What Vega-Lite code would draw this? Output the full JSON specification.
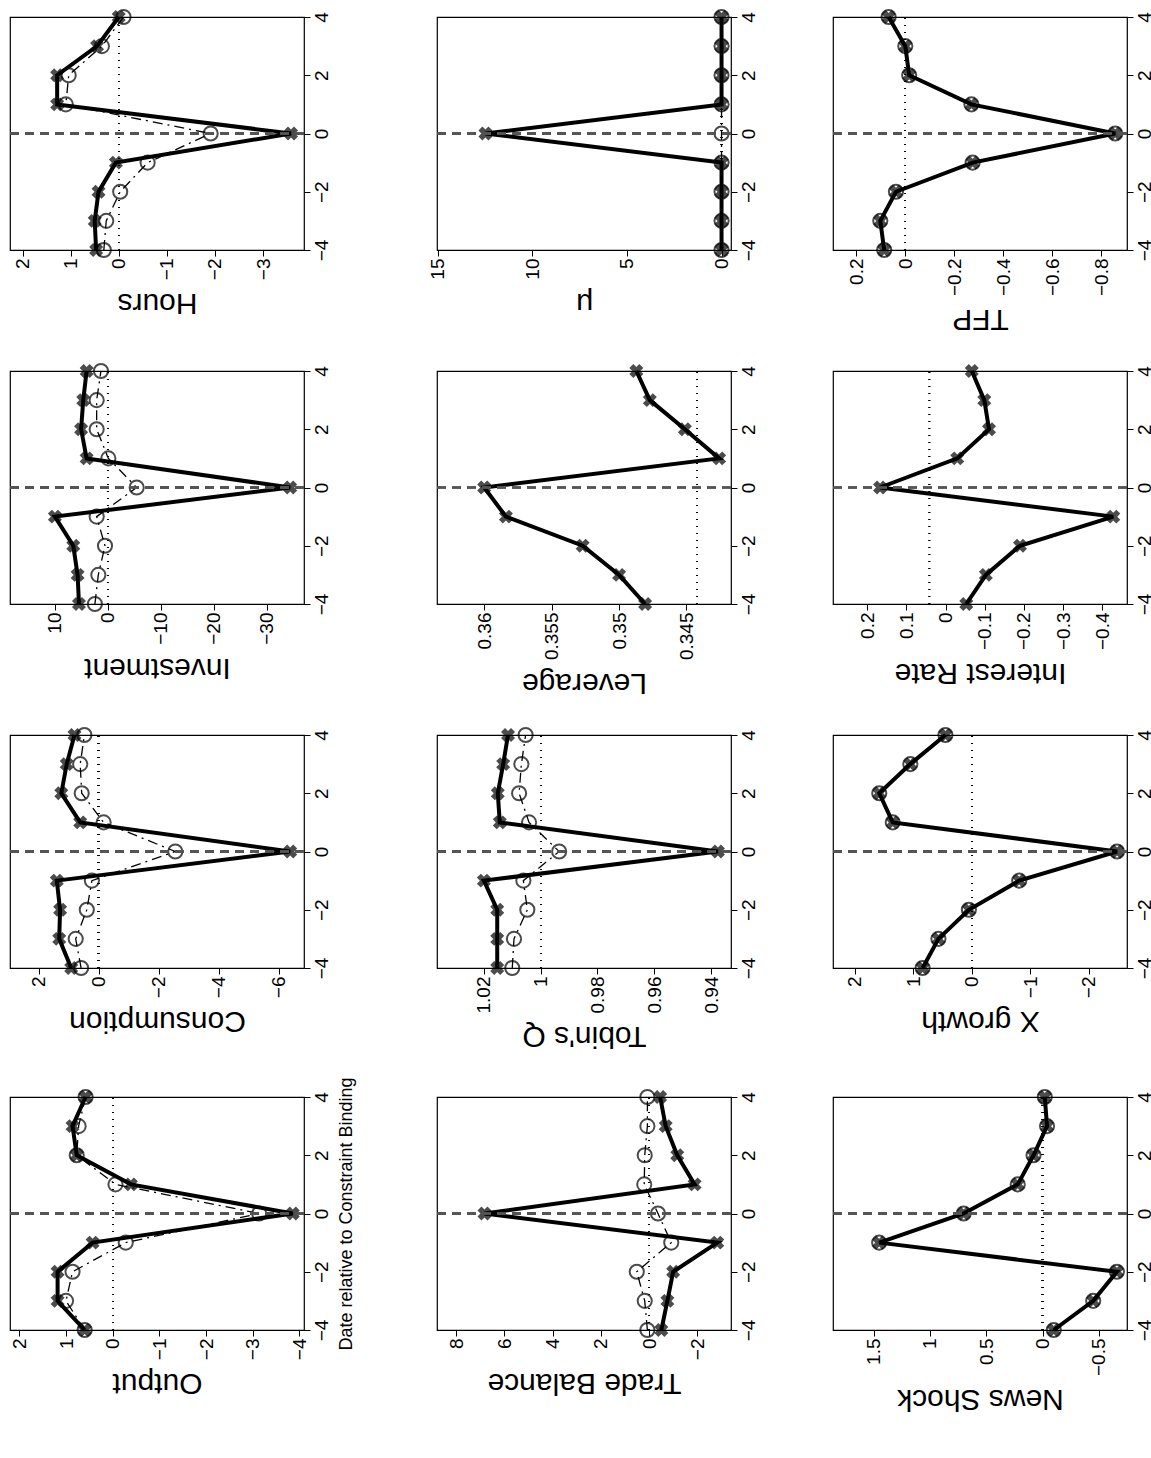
{
  "$schema": "https://vega.github.io/schema/vega-lite/v6.json",
  "padding": {"left": 8, "top": 5, "right": 5, "bottom": 5},
  "background": "white",
  "spacing": {"row": 24, "column": 72},
  "config": {
    "view": {"stroke": "black", "strokeWidth": 1.2},
    "axis": {"grid": false, "domain": false, "tickColor": "black", "tickSize": 6, "labelColor": "black", "titleColor": "black", "titleFontWeight": "normal", "labelFont": "Liberation Sans", "labelFontSize": 19, "titleFont": "Liberation Sans"},
    "axisX": {"titleFontSize": 30, "titleAngle": 180, "titleBaseline": "bottom", "titlePadding": 8}
  },
  "datasets": {
    "irf": [
      {"panel":"Output","series":"a","date":-4,"value":0.6},{"panel":"Output","series":"a","date":-3,"value":1.18},{"panel":"Output","series":"a","date":-2,"value":1.18},{"panel":"Output","series":"a","date":-1,"value":0.43},{"panel":"Output","series":"a","date":0,"value":-3.86},{"panel":"Output","series":"a","date":1,"value":-0.39},{"panel":"Output","series":"a","date":2,"value":0.77},{"panel":"Output","series":"a","date":3,"value":0.86},{"panel":"Output","series":"a","date":4,"value":0.58},
      {"panel":"Output","series":"b","date":-4,"value":0.6},{"panel":"Output","series":"b","date":-3,"value":1.0},{"panel":"Output","series":"b","date":-2,"value":0.86},{"panel":"Output","series":"b","date":-1,"value":-0.28},{"panel":"Output","series":"b","date":0,"value":-3.14},{"panel":"Output","series":"b","date":1,"value":-0.06},{"panel":"Output","series":"b","date":2,"value":0.77},{"panel":"Output","series":"b","date":3,"value":0.73},{"panel":"Output","series":"b","date":4,"value":0.58},
      {"panel":"Consumption","series":"a","date":-4,"value":0.91},{"panel":"Consumption","series":"a","date":-3,"value":1.31},{"panel":"Consumption","series":"a","date":-2,"value":1.28},{"panel":"Consumption","series":"a","date":-1,"value":1.39},{"panel":"Consumption","series":"a","date":0,"value":-6.39},{"panel":"Consumption","series":"a","date":1,"value":0.61},{"panel":"Consumption","series":"a","date":2,"value":1.24},{"panel":"Consumption","series":"a","date":3,"value":1.06},{"panel":"Consumption","series":"a","date":4,"value":0.8},
      {"panel":"Consumption","series":"b","date":-4,"value":0.58},{"panel":"Consumption","series":"b","date":-3,"value":0.76},{"panel":"Consumption","series":"b","date":-2,"value":0.39},{"panel":"Consumption","series":"b","date":-1,"value":0.22},{"panel":"Consumption","series":"b","date":0,"value":-2.56},{"panel":"Consumption","series":"b","date":1,"value":-0.17},{"panel":"Consumption","series":"b","date":2,"value":0.56},{"panel":"Consumption","series":"b","date":3,"value":0.61},{"panel":"Consumption","series":"b","date":4,"value":0.47},
      {"panel":"Investment","series":"a","date":-4,"value":5.4},{"panel":"Investment","series":"a","date":-3,"value":5.66},{"panel":"Investment","series":"a","date":-2,"value":6.48},{"panel":"Investment","series":"a","date":-1,"value":9.94},{"panel":"Investment","series":"a","date":0,"value":-34.4},{"panel":"Investment","series":"a","date":1,"value":3.96},{"panel":"Investment","series":"a","date":2,"value":5.0},{"panel":"Investment","series":"a","date":3,"value":4.6},{"panel":"Investment","series":"a","date":4,"value":3.96},
      {"panel":"Investment","series":"b","date":-4,"value":2.4},{"panel":"Investment","series":"b","date":-3,"value":1.76},{"panel":"Investment","series":"b","date":-2,"value":0.5},{"panel":"Investment","series":"b","date":-1,"value":2.07},{"panel":"Investment","series":"b","date":0,"value":-5.47},{"panel":"Investment","series":"b","date":1,"value":-0.13},{"panel":"Investment","series":"b","date":2,"value":2.07},{"panel":"Investment","series":"b","date":3,"value":2.07},{"panel":"Investment","series":"b","date":4,"value":1.26},
      {"panel":"Hours","series":"a","date":-4,"value":0.47},{"panel":"Hours","series":"a","date":-3,"value":0.5},{"panel":"Hours","series":"a","date":-2,"value":0.42},{"panel":"Hours","series":"a","date":-1,"value":0.06},{"panel":"Hours","series":"a","date":0,"value":-3.58},{"panel":"Hours","series":"a","date":1,"value":1.28},{"panel":"Hours","series":"a","date":2,"value":1.28},{"panel":"Hours","series":"a","date":3,"value":0.45},{"panel":"Hours","series":"a","date":4,"value":0},
      {"panel":"Hours","series":"b","date":-4,"value":0.31},{"panel":"Hours","series":"b","date":-3,"value":0.26},{"panel":"Hours","series":"b","date":-2,"value":-0.03},{"panel":"Hours","series":"b","date":-1,"value":-0.6},{"panel":"Hours","series":"b","date":0,"value":-1.91},{"panel":"Hours","series":"b","date":1,"value":1.1},{"panel":"Hours","series":"b","date":2,"value":1.04},{"panel":"Hours","series":"b","date":3,"value":0.35},{"panel":"Hours","series":"b","date":4,"value":-0.1},
      {"panel":"Trade Balance","series":"a","date":-4,"value":-0.51},{"panel":"Trade Balance","series":"a","date":-3,"value":-0.76},{"panel":"Trade Balance","series":"a","date":-2,"value":-1.0},{"panel":"Trade Balance","series":"a","date":-1,"value":-2.83},{"panel":"Trade Balance","series":"a","date":0,"value":6.83},{"panel":"Trade Balance","series":"a","date":1,"value":-1.89},{"panel":"Trade Balance","series":"a","date":2,"value":-1.17},{"panel":"Trade Balance","series":"a","date":3,"value":-0.69},{"panel":"Trade Balance","series":"a","date":4,"value":-0.46},
      {"panel":"Trade Balance","series":"b","date":-4,"value":0.07},{"panel":"Trade Balance","series":"b","date":-3,"value":0.18},{"panel":"Trade Balance","series":"b","date":-2,"value":0.51},{"panel":"Trade Balance","series":"b","date":-1,"value":-0.92},{"panel":"Trade Balance","series":"b","date":0,"value":-0.37},{"panel":"Trade Balance","series":"b","date":1,"value":0.2},{"panel":"Trade Balance","series":"b","date":2,"value":0.18},{"panel":"Trade Balance","series":"b","date":3,"value":0.07},{"panel":"Trade Balance","series":"b","date":4,"value":0.07},
      {"panel":"Tobin's Q","series":"a","date":-4,"value":1.0153},{"panel":"Tobin's Q","series":"a","date":-3,"value":1.0153},{"panel":"Tobin's Q","series":"a","date":-2,"value":1.0153},{"panel":"Tobin's Q","series":"a","date":-1,"value":1.02},{"panel":"Tobin's Q","series":"a","date":0,"value":0.9376},{"panel":"Tobin's Q","series":"a","date":1,"value":1.0144},{"panel":"Tobin's Q","series":"a","date":2,"value":1.0151},{"panel":"Tobin's Q","series":"a","date":3,"value":1.0132},{"panel":"Tobin's Q","series":"a","date":4,"value":1.0115},
      {"panel":"Tobin's Q","series":"b","date":-4,"value":1.01},{"panel":"Tobin's Q","series":"b","date":-3,"value":1.0094},{"panel":"Tobin's Q","series":"b","date":-2,"value":1.0047},{"panel":"Tobin's Q","series":"b","date":-1,"value":1.0061},{"panel":"Tobin's Q","series":"b","date":0,"value":0.9935},{"panel":"Tobin's Q","series":"b","date":1,"value":1.0041},{"panel":"Tobin's Q","series":"b","date":2,"value":1.0076},{"panel":"Tobin's Q","series":"b","date":3,"value":1.0068},{"panel":"Tobin's Q","series":"b","date":4,"value":1.0053},
      {"panel":"Leverage","series":"a","date":-4,"value":0.34807},{"panel":"Leverage","series":"a","date":-3,"value":0.35},{"panel":"Leverage","series":"a","date":-2,"value":0.3527},{"panel":"Leverage","series":"a","date":-1,"value":0.35839},{"panel":"Leverage","series":"a","date":0,"value":0.36},{"panel":"Leverage","series":"a","date":1,"value":0.34258},{"panel":"Leverage","series":"a","date":2,"value":0.34512},{"panel":"Leverage","series":"a","date":3,"value":0.34772},{"panel":"Leverage","series":"a","date":4,"value":0.34872},
      {"panel":"mu","series":"a","date":-4,"value":0},{"panel":"mu","series":"a","date":-3,"value":0},{"panel":"mu","series":"a","date":-2,"value":0},{"panel":"mu","series":"a","date":-1,"value":0},{"panel":"mu","series":"a","date":0,"value":12.48},{"panel":"mu","series":"a","date":1,"value":0},{"panel":"mu","series":"a","date":2,"value":0},{"panel":"mu","series":"a","date":3,"value":0},{"panel":"mu","series":"a","date":4,"value":0},
      {"panel":"mu","series":"b","date":-4,"value":0},{"panel":"mu","series":"b","date":-3,"value":0},{"panel":"mu","series":"b","date":-2,"value":0},{"panel":"mu","series":"b","date":-1,"value":0},{"panel":"mu","series":"b","date":0,"value":0},{"panel":"mu","series":"b","date":1,"value":0},{"panel":"mu","series":"b","date":2,"value":0},{"panel":"mu","series":"b","date":3,"value":0},{"panel":"mu","series":"b","date":4,"value":0},
      {"panel":"Interest Rate","series":"a","date":-4,"value":-0.053},{"panel":"Interest Rate","series":"a","date":-3,"value":-0.103},{"panel":"Interest Rate","series":"a","date":-2,"value":-0.19},{"panel":"Interest Rate","series":"a","date":-1,"value":-0.428},{"panel":"Interest Rate","series":"a","date":0,"value":0.167},{"panel":"Interest Rate","series":"a","date":1,"value":-0.03},{"panel":"Interest Rate","series":"a","date":2,"value":-0.111},{"panel":"Interest Rate","series":"a","date":3,"value":-0.099},{"panel":"Interest Rate","series":"a","date":4,"value":-0.067},
      {"panel":"X growth","series":"a","date":-4,"value":0.84},{"panel":"X growth","series":"a","date":-3,"value":0.57},{"panel":"X growth","series":"a","date":-2,"value":0.05},{"panel":"X growth","series":"a","date":-1,"value":-0.81},{"panel":"X growth","series":"a","date":0,"value":-2.48},{"panel":"X growth","series":"a","date":1,"value":1.35},{"panel":"X growth","series":"a","date":2,"value":1.58},{"panel":"X growth","series":"a","date":3,"value":1.05},{"panel":"X growth","series":"a","date":4,"value":0.45},
      {"panel":"X growth","series":"b","date":-4,"value":0.84},{"panel":"X growth","series":"b","date":-3,"value":0.57},{"panel":"X growth","series":"b","date":-2,"value":0.05},{"panel":"X growth","series":"b","date":-1,"value":-0.81},{"panel":"X growth","series":"b","date":0,"value":-2.48},{"panel":"X growth","series":"b","date":1,"value":1.35},{"panel":"X growth","series":"b","date":2,"value":1.58},{"panel":"X growth","series":"b","date":3,"value":1.05},{"panel":"X growth","series":"b","date":4,"value":0.45},
      {"panel":"News Shock","series":"a","date":-4,"value":-0.1},{"panel":"News Shock","series":"a","date":-3,"value":-0.45},{"panel":"News Shock","series":"a","date":-2,"value":-0.66},{"panel":"News Shock","series":"a","date":-1,"value":1.45},{"panel":"News Shock","series":"a","date":0,"value":0.7},{"panel":"News Shock","series":"a","date":1,"value":0.22},{"panel":"News Shock","series":"a","date":2,"value":0.08},{"panel":"News Shock","series":"a","date":3,"value":-0.04},{"panel":"News Shock","series":"a","date":4,"value":-0.02},
      {"panel":"News Shock","series":"b","date":-4,"value":-0.1},{"panel":"News Shock","series":"b","date":-3,"value":-0.45},{"panel":"News Shock","series":"b","date":-2,"value":-0.66},{"panel":"News Shock","series":"b","date":-1,"value":1.45},{"panel":"News Shock","series":"b","date":0,"value":0.7},{"panel":"News Shock","series":"b","date":1,"value":0.22},{"panel":"News Shock","series":"b","date":2,"value":0.08},{"panel":"News Shock","series":"b","date":3,"value":-0.04},{"panel":"News Shock","series":"b","date":4,"value":-0.02},
      {"panel":"TFP","series":"a","date":-4,"value":0.086},{"panel":"TFP","series":"a","date":-3,"value":0.102},{"panel":"TFP","series":"a","date":-2,"value":0.038},{"panel":"TFP","series":"a","date":-1,"value":-0.275},{"panel":"TFP","series":"a","date":0,"value":-0.857},{"panel":"TFP","series":"a","date":1,"value":-0.27},{"panel":"TFP","series":"a","date":2,"value":-0.016},{"panel":"TFP","series":"a","date":3,"value":0},{"panel":"TFP","series":"a","date":4,"value":0.068},
      {"panel":"TFP","series":"b","date":-4,"value":0.086},{"panel":"TFP","series":"b","date":-3,"value":0.102},{"panel":"TFP","series":"b","date":-2,"value":0.038},{"panel":"TFP","series":"b","date":-1,"value":-0.275},{"panel":"TFP","series":"b","date":0,"value":-0.857},{"panel":"TFP","series":"b","date":1,"value":-0.27},{"panel":"TFP","series":"b","date":2,"value":-0.016},{"panel":"TFP","series":"b","date":3,"value":0},{"panel":"TFP","series":"b","date":4,"value":0.068}
    ]
  },
  "data": {"name": "irf"},
  "columns": 3,
  "concat": [
    {"width":294,"height":233,"transform":[{"filter":"datum.panel==='Hours'"}],
     "encoding":{"y":{"field":"date","type":"quantitative","scale":{"domain":[-4,4],"nice":false},"axis":{"orient":"right","values":[-4,-2,0,2,4],"title":null,"labelAngle":270,"labelFontSize":19,"labelAlign":"center","labelBaseline":"top","format":"~r"}},
       "x":{"field":"value","type":"quantitative","scale":{"domain":[-3.85,2.26],"reverse":true,"nice":false,"zero":false},"axis":{"values":[2,1,0,-1,-2,-3],"title":"Hours","labelAngle":270,"labelFontSize":19,"labelAlign":"right","labelBaseline":"middle","format":"~r"}}},
     "layer":[
      {"transform":[{"filter":"datum.series==='b'"}],"mark":{"type":"line","strokeDash":[10,5,2,5],"color":"black","strokeWidth":1.3},"encoding":{"order":{"field":"date","type":"quantitative"}}},
      {"transform":[{"filter":"datum.series==='a'"}],"mark":{"type":"line","color":"black","strokeWidth":4},"encoding":{"order":{"field":"date","type":"quantitative"}}},
      {"transform":[{"filter":"datum.series==='b'"}],"mark":{"type":"point","shape":"circle","filled":false,"color":"black","size":200,"strokeWidth":2}},
      {"transform":[{"filter":"datum.series==='a'"}],"mark":{"type":"point","shape":"cross","angle":45,"filled":true,"color":"black","size":200}},
      {"mark":{"type":"rule","strokeDash":[9,6],"color":"#555","strokeWidth":1.3},"encoding":{"y":{"datum":0},"x":{"datum":-3.85},"x2":{"datum":2.26}}},
      {"mark":{"type":"rule","strokeDash":[1,6],"color":"black","strokeWidth":1.3},"encoding":{"x":{"datum":0},"y":{"datum":-4},"y2":{"datum":4}}}
     ]},
    {"width":294,"height":233,"transform":[{"filter":"datum.panel==='mu'"}],
     "encoding":{"y":{"field":"date","type":"quantitative","scale":{"domain":[-4,4],"nice":false},"axis":{"orient":"right","values":[-4,-2,0,2,4],"title":null,"labelAngle":270,"labelFontSize":19,"labelAlign":"center","labelBaseline":"top","format":"~r"}},
       "x":{"field":"value","type":"quantitative","scale":{"domain":[-0.5,15.04],"reverse":true,"nice":false,"zero":false},"axis":{"values":[15,10,5,0],"title":"μ","labelAngle":270,"labelFontSize":19,"labelAlign":"right","labelBaseline":"middle","format":"~r"}}},
     "layer":[
      {"transform":[{"filter":"datum.series==='b'"}],"mark":{"type":"line","strokeDash":[10,5,2,5],"color":"black","strokeWidth":1.3},"encoding":{"order":{"field":"date","type":"quantitative"}}},
      {"transform":[{"filter":"datum.series==='a'"}],"mark":{"type":"line","color":"black","strokeWidth":4},"encoding":{"order":{"field":"date","type":"quantitative"}}},
      {"transform":[{"filter":"datum.series==='b'"}],"mark":{"type":"point","shape":"circle","filled":false,"color":"black","size":200,"strokeWidth":2}},
      {"transform":[{"filter":"datum.series==='a'"}],"mark":{"type":"point","shape":"cross","angle":45,"filled":true,"color":"black","size":200}},
      {"mark":{"type":"rule","strokeDash":[9,6],"color":"#555","strokeWidth":1.3},"encoding":{"y":{"datum":0},"x":{"datum":-0.5},"x2":{"datum":15.04}}},
      {"mark":{"type":"rule","strokeDash":[1,6],"color":"black","strokeWidth":1.3},"encoding":{"x":{"datum":0},"y":{"datum":-4},"y2":{"datum":4}}}
     ]},
    {"width":294,"height":233,"transform":[{"filter":"datum.panel==='TFP'"}],
     "encoding":{"y":{"field":"date","type":"quantitative","scale":{"domain":[-4,4],"nice":false},"axis":{"orient":"right","values":[-4,-2,0,2,4],"title":null,"labelAngle":270,"labelFontSize":19,"labelAlign":"center","labelBaseline":"top","format":"~r"}},
       "x":{"field":"value","type":"quantitative","scale":{"domain":[-0.905,0.295],"reverse":true,"nice":false,"zero":false},"axis":{"values":[0.2,0,-0.2,-0.4,-0.6,-0.8],"title":"TFP","labelAngle":270,"labelFontSize":19,"labelAlign":"right","labelBaseline":"middle","format":"~r"}}},
     "layer":[
      {"transform":[{"filter":"datum.series==='b'"}],"mark":{"type":"line","strokeDash":[10,5,2,5],"color":"black","strokeWidth":1.3},"encoding":{"order":{"field":"date","type":"quantitative"}}},
      {"transform":[{"filter":"datum.series==='a'"}],"mark":{"type":"line","color":"black","strokeWidth":4},"encoding":{"order":{"field":"date","type":"quantitative"}}},
      {"transform":[{"filter":"datum.series==='b'"}],"mark":{"type":"point","shape":"circle","filled":false,"color":"black","size":200,"strokeWidth":2}},
      {"transform":[{"filter":"datum.series==='a'"}],"mark":{"type":"point","shape":"cross","angle":45,"filled":true,"color":"black","size":200}},
      {"mark":{"type":"rule","strokeDash":[9,6],"color":"#555","strokeWidth":1.3},"encoding":{"y":{"datum":0},"x":{"datum":-0.905},"x2":{"datum":0.295}}},
      {"mark":{"type":"rule","strokeDash":[1,6],"color":"black","strokeWidth":1.3},"encoding":{"x":{"datum":0},"y":{"datum":-4},"y2":{"datum":4}}}
     ]},
    {"width":294,"height":233,"transform":[{"filter":"datum.panel==='Investment'"}],
     "encoding":{"y":{"field":"date","type":"quantitative","scale":{"domain":[-4,4],"nice":false},"axis":{"orient":"right","values":[-4,-2,0,2,4],"title":null,"labelAngle":270,"labelFontSize":19,"labelAlign":"center","labelBaseline":"top","format":"~r"}},
       "x":{"field":"value","type":"quantitative","scale":{"domain":[-37,18.4],"reverse":true,"nice":false,"zero":false},"axis":{"values":[10,0,-10,-20,-30],"title":"Investment","labelAngle":270,"labelFontSize":19,"labelAlign":"right","labelBaseline":"middle","format":"~r"}}},
     "layer":[
      {"transform":[{"filter":"datum.series==='b'"}],"mark":{"type":"line","strokeDash":[10,5,2,5],"color":"black","strokeWidth":1.3},"encoding":{"order":{"field":"date","type":"quantitative"}}},
      {"transform":[{"filter":"datum.series==='a'"}],"mark":{"type":"line","color":"black","strokeWidth":4},"encoding":{"order":{"field":"date","type":"quantitative"}}},
      {"transform":[{"filter":"datum.series==='b'"}],"mark":{"type":"point","shape":"circle","filled":false,"color":"black","size":200,"strokeWidth":2}},
      {"transform":[{"filter":"datum.series==='a'"}],"mark":{"type":"point","shape":"cross","angle":45,"filled":true,"color":"black","size":200}},
      {"mark":{"type":"rule","strokeDash":[9,6],"color":"#555","strokeWidth":1.3},"encoding":{"y":{"datum":0},"x":{"datum":-37},"x2":{"datum":18.4}}},
      {"mark":{"type":"rule","strokeDash":[1,6],"color":"black","strokeWidth":1.3},"encoding":{"x":{"datum":0},"y":{"datum":-4},"y2":{"datum":4}}}
     ]},
    {"width":294,"height":233,"transform":[{"filter":"datum.panel==='Leverage'"}],
     "encoding":{"y":{"field":"date","type":"quantitative","scale":{"domain":[-4,4],"nice":false},"axis":{"orient":"right","values":[-4,-2,0,2,4],"title":null,"labelAngle":270,"labelFontSize":19,"labelAlign":"center","labelBaseline":"top","format":"~r"}},
       "x":{"field":"value","type":"quantitative","scale":{"domain":[0.3417,0.3635],"reverse":true,"nice":false,"zero":false},"axis":{"values":[0.36,0.355,0.35,0.345],"title":"Leverage","labelAngle":270,"labelFontSize":19,"labelAlign":"right","labelBaseline":"middle","format":"~r"}}},
     "layer":[
      {"transform":[{"filter":"datum.series==='a'"}],"mark":{"type":"line","color":"black","strokeWidth":4},"encoding":{"order":{"field":"date","type":"quantitative"}}},
      {"transform":[{"filter":"datum.series==='a'"}],"mark":{"type":"point","shape":"cross","angle":45,"filled":true,"color":"black","size":200}},
      {"mark":{"type":"rule","strokeDash":[9,6],"color":"#555","strokeWidth":1.3},"encoding":{"y":{"datum":0},"x":{"datum":0.3417},"x2":{"datum":0.3635}}},
      {"mark":{"type":"rule","strokeDash":[1,6],"color":"black","strokeWidth":1.3},"encoding":{"x":{"datum":0.3442},"y":{"datum":-4},"y2":{"datum":4}}}
     ]},
    {"width":294,"height":233,"transform":[{"filter":"datum.panel==='Interest Rate'"}],
     "encoding":{"y":{"field":"date","type":"quantitative","scale":{"domain":[-4,4],"nice":false},"axis":{"orient":"right","values":[-4,-2,0,2,4],"title":null,"labelAngle":270,"labelFontSize":19,"labelAlign":"center","labelBaseline":"top","format":"~r"}},
       "x":{"field":"value","type":"quantitative","scale":{"domain":[-0.463,0.287],"reverse":true,"nice":false,"zero":false},"axis":{"values":[0.2,0.1,0,-0.1,-0.2,-0.3,-0.4],"title":"Interest Rate","labelAngle":270,"labelFontSize":19,"labelAlign":"right","labelBaseline":"middle","format":"~r"}}},
     "layer":[
      {"transform":[{"filter":"datum.series==='a'"}],"mark":{"type":"line","color":"black","strokeWidth":4},"encoding":{"order":{"field":"date","type":"quantitative"}}},
      {"transform":[{"filter":"datum.series==='a'"}],"mark":{"type":"point","shape":"cross","angle":45,"filled":true,"color":"black","size":200}},
      {"mark":{"type":"rule","strokeDash":[9,6],"color":"#555","strokeWidth":1.3},"encoding":{"y":{"datum":0},"x":{"datum":-0.463},"x2":{"datum":0.287}}},
      {"mark":{"type":"rule","strokeDash":[1,6],"color":"black","strokeWidth":1.3},"encoding":{"x":{"datum":0.041},"y":{"datum":-4},"y2":{"datum":4}}}
     ]},
    {"width":294,"height":233,"transform":[{"filter":"datum.panel==='Consumption'"}],
     "encoding":{"y":{"field":"date","type":"quantitative","scale":{"domain":[-4,4],"nice":false},"axis":{"orient":"right","values":[-4,-2,0,2,4],"title":null,"labelAngle":270,"labelFontSize":19,"labelAlign":"center","labelBaseline":"top","format":"~r"}},
       "x":{"field":"value","type":"quantitative","scale":{"domain":[-6.85,2.95],"reverse":true,"nice":false,"zero":false},"axis":{"values":[2,0,-2,-4,-6],"title":"Consumption","labelAngle":270,"labelFontSize":19,"labelAlign":"right","labelBaseline":"middle","format":"~r"}}},
     "layer":[
      {"transform":[{"filter":"datum.series==='b'"}],"mark":{"type":"line","strokeDash":[10,5,2,5],"color":"black","strokeWidth":1.3},"encoding":{"order":{"field":"date","type":"quantitative"}}},
      {"transform":[{"filter":"datum.series==='a'"}],"mark":{"type":"line","color":"black","strokeWidth":4},"encoding":{"order":{"field":"date","type":"quantitative"}}},
      {"transform":[{"filter":"datum.series==='b'"}],"mark":{"type":"point","shape":"circle","filled":false,"color":"black","size":200,"strokeWidth":2}},
      {"transform":[{"filter":"datum.series==='a'"}],"mark":{"type":"point","shape":"cross","angle":45,"filled":true,"color":"black","size":200}},
      {"mark":{"type":"rule","strokeDash":[9,6],"color":"#555","strokeWidth":1.3},"encoding":{"y":{"datum":0},"x":{"datum":-6.85},"x2":{"datum":2.95}}},
      {"mark":{"type":"rule","strokeDash":[1,6],"color":"black","strokeWidth":1.3},"encoding":{"x":{"datum":0},"y":{"datum":-4},"y2":{"datum":4}}}
     ]},
    {"width":294,"height":233,"transform":[{"filter":"datum.panel===\"Tobin's Q\""}],
     "encoding":{"y":{"field":"date","type":"quantitative","scale":{"domain":[-4,4],"nice":false},"axis":{"orient":"right","values":[-4,-2,0,2,4],"title":null,"labelAngle":270,"labelFontSize":19,"labelAlign":"center","labelBaseline":"top","format":"~r"}},
       "x":{"field":"value","type":"quantitative","scale":{"domain":[0.933,1.0365],"reverse":true,"nice":false,"zero":false},"axis":{"values":[1.02,1,0.98,0.96,0.94],"title":"Tobin's Q","labelAngle":270,"labelFontSize":19,"labelAlign":"right","labelBaseline":"middle","format":"~r"}}},
     "layer":[
      {"transform":[{"filter":"datum.series==='b'"}],"mark":{"type":"line","strokeDash":[10,5,2,5],"color":"black","strokeWidth":1.3},"encoding":{"order":{"field":"date","type":"quantitative"}}},
      {"transform":[{"filter":"datum.series==='a'"}],"mark":{"type":"line","color":"black","strokeWidth":4},"encoding":{"order":{"field":"date","type":"quantitative"}}},
      {"transform":[{"filter":"datum.series==='b'"}],"mark":{"type":"point","shape":"circle","filled":false,"color":"black","size":200,"strokeWidth":2}},
      {"transform":[{"filter":"datum.series==='a'"}],"mark":{"type":"point","shape":"cross","angle":45,"filled":true,"color":"black","size":200}},
      {"mark":{"type":"rule","strokeDash":[9,6],"color":"#555","strokeWidth":1.3},"encoding":{"y":{"datum":0},"x":{"datum":0.933},"x2":{"datum":1.0365}}},
      {"mark":{"type":"rule","strokeDash":[1,6],"color":"black","strokeWidth":1.3},"encoding":{"x":{"datum":1},"y":{"datum":-4},"y2":{"datum":4}}}
     ]},
    {"width":294,"height":233,"transform":[{"filter":"datum.panel==='X growth'"}],
     "encoding":{"y":{"field":"date","type":"quantitative","scale":{"domain":[-4,4],"nice":false},"axis":{"orient":"right","values":[-4,-2,0,2,4],"title":null,"labelAngle":270,"labelFontSize":19,"labelAlign":"center","labelBaseline":"top","format":"~r"}},
       "x":{"field":"value","type":"quantitative","scale":{"domain":[-2.65,2.37],"reverse":true,"nice":false,"zero":false},"axis":{"values":[2,1,0,-1,-2],"title":"X growth","labelAngle":270,"labelFontSize":19,"labelAlign":"right","labelBaseline":"middle","format":"~r"}}},
     "layer":[
      {"transform":[{"filter":"datum.series==='b'"}],"mark":{"type":"line","strokeDash":[10,5,2,5],"color":"black","strokeWidth":1.3},"encoding":{"order":{"field":"date","type":"quantitative"}}},
      {"transform":[{"filter":"datum.series==='a'"}],"mark":{"type":"line","color":"black","strokeWidth":4},"encoding":{"order":{"field":"date","type":"quantitative"}}},
      {"transform":[{"filter":"datum.series==='b'"}],"mark":{"type":"point","shape":"circle","filled":false,"color":"black","size":200,"strokeWidth":2}},
      {"transform":[{"filter":"datum.series==='a'"}],"mark":{"type":"point","shape":"cross","angle":45,"filled":true,"color":"black","size":200}},
      {"mark":{"type":"rule","strokeDash":[9,6],"color":"#555","strokeWidth":1.3},"encoding":{"y":{"datum":0},"x":{"datum":-2.65},"x2":{"datum":2.37}}},
      {"mark":{"type":"rule","strokeDash":[1,6],"color":"black","strokeWidth":1.3},"encoding":{"x":{"datum":0},"y":{"datum":-4},"y2":{"datum":4}}}
     ]},
    {"width":294,"height":233,"transform":[{"filter":"datum.panel==='Output'"}],
     "encoding":{"y":{"field":"date","type":"quantitative","scale":{"domain":[-4,4],"nice":false},"axis":{"orient":"right","values":[-4,-2,0,2,4],"title":"Date relative to Constraint Binding","titleAngle":270,"titleBaseline":"top","titleFontSize":18,"titlePadding":6,"labelAngle":270,"labelFontSize":19,"labelAlign":"center","labelBaseline":"top","format":"~r"}},
       "x":{"field":"value","type":"quantitative","scale":{"domain":[-4.1,2.2],"reverse":true,"nice":false,"zero":false},"axis":{"values":[2,1,0,-1,-2,-3,-4],"title":"Output","labelAngle":270,"labelFontSize":19,"labelAlign":"right","labelBaseline":"middle","format":"~r"}}},
     "layer":[
      {"transform":[{"filter":"datum.series==='b'"}],"mark":{"type":"line","strokeDash":[10,5,2,5],"color":"black","strokeWidth":1.3},"encoding":{"order":{"field":"date","type":"quantitative"}}},
      {"transform":[{"filter":"datum.series==='a'"}],"mark":{"type":"line","color":"black","strokeWidth":4},"encoding":{"order":{"field":"date","type":"quantitative"}}},
      {"transform":[{"filter":"datum.series==='b'"}],"mark":{"type":"point","shape":"circle","filled":false,"color":"black","size":200,"strokeWidth":2}},
      {"transform":[{"filter":"datum.series==='a'"}],"mark":{"type":"point","shape":"cross","angle":45,"filled":true,"color":"black","size":200}},
      {"mark":{"type":"rule","strokeDash":[9,6],"color":"#555","strokeWidth":1.3},"encoding":{"y":{"datum":0},"x":{"datum":-4.1},"x2":{"datum":2.2}}},
      {"mark":{"type":"rule","strokeDash":[1,6],"color":"black","strokeWidth":1.3},"encoding":{"x":{"datum":0},"y":{"datum":-4},"y2":{"datum":4}}}
     ]},
    {"width":294,"height":233,"transform":[{"filter":"datum.panel==='Trade Balance'"}],
     "encoding":{"y":{"field":"date","type":"quantitative","scale":{"domain":[-4,4],"nice":false},"axis":{"orient":"right","values":[-4,-2,0,2,4],"title":null,"labelAngle":270,"labelFontSize":19,"labelAlign":"center","labelBaseline":"top","format":"~r"}},
       "x":{"field":"value","type":"quantitative","scale":{"domain":[-3.4,8.8],"reverse":true,"nice":false,"zero":false},"axis":{"values":[8,6,4,2,0,-2],"title":"Trade Balance","labelAngle":270,"labelFontSize":19,"labelAlign":"right","labelBaseline":"middle","format":"~r"}}},
     "layer":[
      {"transform":[{"filter":"datum.series==='b'"}],"mark":{"type":"line","strokeDash":[10,5,2,5],"color":"black","strokeWidth":1.3},"encoding":{"order":{"field":"date","type":"quantitative"}}},
      {"transform":[{"filter":"datum.series==='a'"}],"mark":{"type":"line","color":"black","strokeWidth":4},"encoding":{"order":{"field":"date","type":"quantitative"}}},
      {"transform":[{"filter":"datum.series==='b'"}],"mark":{"type":"point","shape":"circle","filled":false,"color":"black","size":200,"strokeWidth":2}},
      {"transform":[{"filter":"datum.series==='a'"}],"mark":{"type":"point","shape":"cross","angle":45,"filled":true,"color":"black","size":200}},
      {"mark":{"type":"rule","strokeDash":[9,6],"color":"#555","strokeWidth":1.3},"encoding":{"y":{"datum":0},"x":{"datum":-3.4},"x2":{"datum":8.8}}},
      {"mark":{"type":"rule","strokeDash":[1,6],"color":"black","strokeWidth":1.3},"encoding":{"x":{"datum":0},"y":{"datum":-4},"y2":{"datum":4}}}
     ]},
    {"width":294,"height":233,"transform":[{"filter":"datum.panel==='News Shock'"}],
     "encoding":{"y":{"field":"date","type":"quantitative","scale":{"domain":[-4,4],"nice":false},"axis":{"orient":"right","values":[-4,-2,0,2,4],"title":null,"labelAngle":270,"labelFontSize":19,"labelAlign":"center","labelBaseline":"top","format":"~r"}},
       "x":{"field":"value","type":"quantitative","scale":{"domain":[-0.75,1.86],"reverse":true,"nice":false,"zero":false},"axis":{"values":[1.5,1,0.5,0,-0.5],"title":"News Shock","labelAngle":270,"labelFontSize":19,"labelAlign":"right","labelBaseline":"middle","format":"~r"}}},
     "layer":[
      {"transform":[{"filter":"datum.series==='b'"}],"mark":{"type":"line","strokeDash":[10,5,2,5],"color":"black","strokeWidth":1.3},"encoding":{"order":{"field":"date","type":"quantitative"}}},
      {"transform":[{"filter":"datum.series==='a'"}],"mark":{"type":"line","color":"black","strokeWidth":4},"encoding":{"order":{"field":"date","type":"quantitative"}}},
      {"transform":[{"filter":"datum.series==='b'"}],"mark":{"type":"point","shape":"circle","filled":false,"color":"black","size":200,"strokeWidth":2}},
      {"transform":[{"filter":"datum.series==='a'"}],"mark":{"type":"point","shape":"cross","angle":45,"filled":true,"color":"black","size":200}},
      {"mark":{"type":"rule","strokeDash":[9,6],"color":"#555","strokeWidth":1.3},"encoding":{"y":{"datum":0},"x":{"datum":-0.75},"x2":{"datum":1.86}}},
      {"mark":{"type":"rule","strokeDash":[1,6],"color":"black","strokeWidth":1.3},"encoding":{"x":{"datum":0},"y":{"datum":-4},"y2":{"datum":4}}}
     ]}
  ]
}
